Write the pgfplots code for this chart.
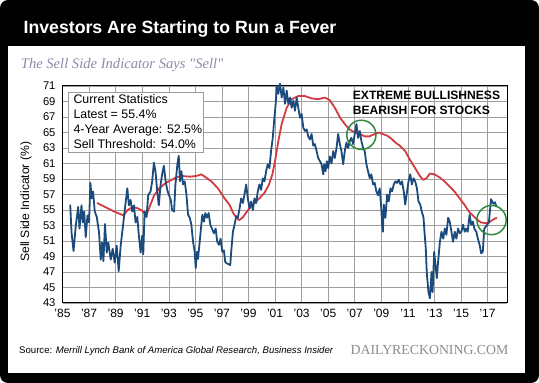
\documentclass[border=0pt]{standalone}
\usepackage{fontspec}
\setmainfont{Liberation Sans}
\newfontfamily\seriffont{Liberation Serif}
\usepackage{pgfplots}
\pgfplotsset{compat=1.18}
\definecolor{blueline}{HTML}{1B4A7C}
\definecolor{redline}{HTML}{D43A42}
\definecolor{greencirc}{HTML}{2F8A3C}
\definecolor{subgray}{HTML}{8A8CA6}
\definecolor{dailygray}{HTML}{8C8C8C}
\begin{document}
\begin{tikzpicture}[x=1pt,y=1pt]
\fill[black,rounded corners=8pt] (0,0) rectangle (539,383);
\useasboundingbox (0,0) rectangle (539,383);
\fill[white] (8.3,10.2) rectangle (525,337.1);
\node[anchor=base west,inner sep=0pt,text=white,font=\bfseries\fontsize{17.7}{20}\selectfont] at (23.4,349.6) {Investors Are Starting to Run a Fever};
\node[anchor=base west,inner sep=0pt,text=subgray,font=\seriffont\itshape\fontsize{14.6}{17}\selectfont] at (20.7,314) {The Sell Side Indicator Says "Sell"};
\begin{axis}[
  at={(62.5pt,80pt)}, anchor=south west,
  width=445pt, height=217pt, scale only axis,
  xmin=1985, xmax=2018.5, ymin=43, ymax=71,
  xtick={1985,1987,...,2017},
  xticklabels={'85,'87,'89,'91,'93,'95,'97,'99,'01,'03,'05,'07,'09,'11,'13,'15,'17},
  ytick={43,45,...,71},
  /pgf/number format/assume math mode=true,
  grid=major,
  major grid style={gray!75,line width=0.5pt},
  major tick length=0pt,
  axis line style={black,line width=1pt},
  xticklabel style={font=\fontsize{12}{14}\selectfont,yshift=-3pt},
  yticklabel style={font=\fontsize{11.2}{13}\selectfont,xshift=-3.5pt},
  clip=false,
]
\addplot[redline,line width=1.8pt,line join=round] coordinates {
(1987.6,55.9) (1988.2,55.4) (1988.9,54.8) (1989.6,54.3) (1989.9,55.0) (1990.3,55.4) (1990.7,55.2) (1991.0,54.9) (1991.3,54.3) (1991.6,55.6) (1991.9,56.9) (1992.3,57.8) (1992.7,58.4) (1993.0,58.7) (1993.45,59.1) (1993.9,59.4) (1994.6,59.3) (1995.1,59.4) (1995.45,59.6) (1995.8,59.2) (1996.2,58.7) (1996.7,57.8) (1997.2,56.5) (1997.6,55.6) (1997.85,54.6) (1998.1,54.0) (1998.3,53.7) (1998.55,54.0) (1998.8,54.6) (1999.2,55.5) (1999.7,56.3) (2000.2,57.2) (2000.55,58.3) (2000.8,59.6) (2001.0,61.3) (2001.25,63.9) (2001.5,66.1) (2001.88,68.2) (2002.25,69.3) (2002.75,69.7) (2003.25,69.7) (2003.75,69.4) (2004.25,69.3) (2004.75,69.5) (2005.1,69.2) (2005.5,68.2) (2005.9,66.9) (2006.25,66.1) (2006.6,65.4) (2007.0,65.0) (2007.4,64.8) (2007.75,64.5) (2008.1,64.5) (2008.5,64.8) (2008.85,65.0) (2009.1,64.8) (2009.44,64.6) (2009.7,64.3) (2010.06,63.7) (2010.4,63.3) (2010.8,62.6) (2011.15,61.5) (2011.55,60.4) (2011.9,59.4) (2012.15,58.9) (2012.4,59.1) (2012.66,59.7) (2013.0,59.6) (2013.4,59.2) (2013.75,58.7) (2014.1,58.1) (2014.5,57.4) (2014.9,56.5) (2015.25,55.7) (2015.6,54.8) (2015.95,54.2) (2016.25,53.7) (2016.5,53.4) (2016.85,53.3) (2017.2,53.5) (2017.45,53.8) (2017.7,54.0)
};
\addplot[blueline,line width=1.8pt,line join=round] coordinates {
(1985.58,55.7) (1985.68,52.1) (1985.83,49.7) (1986.0,53) (1986.18,55.4) (1986.28,52.6) (1986.43,55.6) (1986.53,53.4) (1986.63,54.8) (1986.75,51.5) (1986.88,54.3) (1987.0,53.4) (1987.1,58.5) (1987.2,56.5) (1987.3,57.4) (1987.43,54.8) (1987.58,54.1) (1987.75,52.1) (1987.88,48.6) (1987.98,50.8) (1988.08,48.4) (1988.2,53.2) (1988.33,49.5) (1988.45,50.8) (1988.63,48.6) (1988.78,50) (1988.93,48.2) (1989.08,50.4) (1989.23,47.1) (1989.38,50.4) (1989.53,52.6) (1989.7,55.2) (1989.88,57.8) (1990.0,55.6) (1990.13,56.3) (1990.25,54.8) (1990.38,55.6) (1990.5,53.4) (1990.63,54.1) (1990.75,51.7) (1990.88,49.5) (1991.0,51.7) (1991.08,49.3) (1991.18,54.8) (1991.33,54.1) (1991.45,56.9) (1991.63,57.4) (1991.75,58.7) (1991.88,61.1) (1992.0,60) (1992.13,57.4) (1992.25,55.6) (1992.38,58.2) (1992.5,59.6) (1992.63,60.7) (1992.78,58.5) (1992.9,57.5) (1993.0,57) (1993.15,56.3) (1993.25,55) (1993.4,54.8) (1993.5,58.3) (1993.65,60.9) (1993.75,62) (1993.85,58.7) (1993.95,60) (1994.08,58.3) (1994.2,58.7) (1994.33,57) (1994.45,54.4) (1994.58,54) (1994.7,53.1) (1994.83,50.9) (1994.95,49.6) (1995.03,47.5) (1995.13,49.6) (1995.2,48.7) (1995.33,50.9) (1995.45,53.1) (1995.53,54.4) (1995.65,53.5) (1995.75,54.6) (1995.88,54) (1996.0,54.6) (1996.13,53.1) (1996.25,52.6) (1996.4,52) (1996.53,52.6) (1996.65,50.9) (1996.78,50.5) (1996.9,51.3) (1997.03,49.6) (1997.15,49.8) (1997.25,48.3) (1997.38,48.1) (1997.5,48) (1997.63,47.9) (1997.7,49.6) (1997.83,52.2) (1997.95,53.1) (1998.08,54.2) (1998.2,54) (1998.33,55.2) (1998.45,56.5) (1998.58,55.9) (1998.7,57) (1998.83,58.3) (1998.95,56.5) (1999.08,55.2) (1999.2,56.1) (1999.33,55) (1999.45,56.5) (1999.58,55.9) (1999.7,57.4) (1999.83,58.3) (1999.95,57.6) (2000.08,59.1) (2000.2,58.7) (2000.33,60) (2000.45,60.9) (2000.58,60.4) (2000.7,62.6) (2000.83,64.3) (2000.95,66.9) (2001.05,68.7) (2001.1,70) (2001.15,71) (2001.25,70) (2001.38,71.3) (2001.5,69.5) (2001.63,70.8) (2001.75,68.7) (2001.88,70.4) (2002.0,68.7) (2002.13,69.5) (2002.25,68.2) (2002.38,69.1) (2002.5,67.8) (2002.63,69.5) (2002.75,68.2) (2002.88,66.9) (2003.0,67.4) (2003.13,65.6) (2003.25,65.2) (2003.38,65.4) (2003.5,64.5) (2003.63,64.1) (2003.75,64.8) (2003.88,63.3) (2004.0,63.5) (2004.13,62.6) (2004.25,61.7) (2004.38,61.3) (2004.5,60.9) (2004.63,59.6) (2004.7,60.9) (2004.8,60) (2004.9,61.3) (2005.0,60.4) (2005.13,61.9) (2005.25,61) (2005.38,62.6) (2005.5,61.7) (2005.63,63) (2005.75,64.8) (2005.88,63.5) (2006.0,62.6) (2006.13,60.9) (2006.25,62.6) (2006.38,63.7) (2006.5,63) (2006.63,63.9) (2006.75,64.3) (2006.88,63.5) (2007.0,64.8) (2007.13,66.1) (2007.25,64.3) (2007.38,65.2) (2007.5,63.9) (2007.63,63) (2007.75,62.6) (2007.88,60.9) (2008.0,60) (2008.13,59.1) (2008.25,59.6) (2008.38,58.3) (2008.5,58.5) (2008.63,57.4) (2008.75,56.9) (2008.88,57.8) (2009.0,55.2) (2009.06,53.1) (2009.12,52.2) (2009.19,55.7) (2009.31,54) (2009.44,57) (2009.56,56.1) (2009.69,57.8) (2009.81,57.4) (2009.94,58.3) (2010.06,58.7) (2010.19,58.5) (2010.31,58.9) (2010.44,58.3) (2010.56,58.7) (2010.69,57.4) (2010.8,55.7) (2010.94,57.4) (2011.05,58.7) (2011.18,59.6) (2011.3,58.3) (2011.43,59.1) (2011.55,58.7) (2011.68,57.8) (2011.8,56.1) (2011.93,55.7) (2012.05,54.8) (2012.18,54) (2012.25,52.2) (2012.35,50) (2012.42,47) (2012.55,44.4) (2012.66,43.6) (2012.78,47) (2012.86,44.4) (2012.98,49.6) (2013.08,47.9) (2013.18,46.2) (2013.28,48.4) (2013.41,50.9) (2013.53,52.2) (2013.66,51.3) (2013.78,52.6) (2013.9,51.8) (2014.03,54) (2014.15,53.5) (2014.28,52.2) (2014.4,50.9) (2014.53,52.2) (2014.65,51.3) (2014.78,52.6) (2014.9,52) (2015.03,52.2) (2015.15,53.1) (2015.28,52.2) (2015.4,52.6) (2015.5,52.2) (2015.65,54.4) (2015.77,53.1) (2015.9,53.5) (2016.0,52.6) (2016.15,52.2) (2016.27,51.3) (2016.4,50.5) (2016.52,49.4) (2016.64,49.6) (2016.75,52.6) (2016.93,53) (2017.1,53.4) (2017.26,56.4) (2017.43,55.8) (2017.55,56.0) (2017.68,55.4)
};
\draw[greencirc,line width=1.5pt] (axis cs:2007.5,64.7) circle[radius=14.6pt];
\draw[greencirc,line width=1.5pt] (axis cs:2017.3,53.7) circle[radius=14.6pt];
\end{axis}
\node[rotate=90,inner sep=0pt,font=\fontsize{12.1}{14}\selectfont] at (26,181.3) {Sell Side Indicator (\%)};
\draw[gray!80,fill=white,line width=0.6pt] (68.3,230.3) rectangle (203.3,290.3);
\begin{scope}[every node/.style={anchor=base west,inner sep=0pt,font=\fontsize{12.4}{14}\selectfont}]
\node at (73.3,279.7) {Current Statistics};
\node at (73.3,264.7) {Latest = 55.4\%};
\node at (73.3,249.7) {4-Year Average: 52.5\%};
\node at (73.3,234.7) {Sell Threshold: 54.0\%};
\end{scope}
\begin{scope}[every node/.style={anchor=base west,inner sep=0pt,font=\bfseries\fontsize{12.1}{14}\selectfont}]
\node at (352.7,283) {EXTREME BULLISHNESS};
\node at (352.7,268) {BEARISH FOR STOCKS};
\end{scope}
\node[anchor=base west,inner sep=0pt,font=\fontsize{9.6}{11}\selectfont] at (19,29) {Source: \textit{Merrill Lynch Bank of America Global Research, Business Insider}};
\node[anchor=base east,inner sep=0pt,text=dailygray,font=\seriffont\fontsize{13.8}{16}\selectfont] at (508.6,28.5) {DAILYRECKONING.COM};
\end{tikzpicture}
\end{document}
